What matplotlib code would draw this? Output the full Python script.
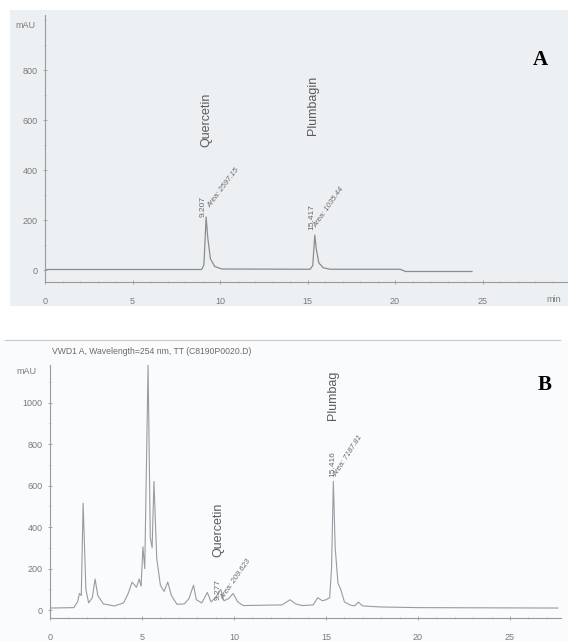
import matplotlib
matplotlib.use('Agg')
import matplotlib.pyplot as plt
from matplotlib.lines import Line2D
from matplotlib.patches import Rectangle
from matplotlib.ticker import MultipleLocator

plt.rcParams['font.family'] = ['Liberation Sans', 'DejaVu Sans']
plt.rcParams['font.size'] = 6.5

W, H = 568, 641

# ---------------------------------------------------------------- panel A trace (min, mAU)
tA = [0, 8.95, 9.08, 9.207, 9.3, 9.45, 9.7, 10.1, 15.15, 15.3, 15.417, 15.5, 15.65, 15.9, 16.3, 20.3, 20.6, 24.4]
yA = [2, 2, 20, 212, 130, 45, 14, 4, 3, 18, 140, 85, 28, 9, 3, 3, -6, -6]

# ---------------------------------------------------------------- panel B trace (min, mAU)
tB = [0, 1.3, 1.5, 1.6, 1.7, 1.8, 1.95, 2.1, 2.3, 2.45, 2.6, 2.9, 3.5, 4.0, 4.25,
      4.46, 4.7, 4.85, 4.95, 5.05, 5.15, 5.33, 5.45, 5.55, 5.65, 5.8, 6.0, 6.2, 6.4,
      6.6, 6.9, 7.3, 7.55, 7.8, 7.95, 8.25, 8.55, 8.75, 9.0, 9.28, 9.45, 9.7, 9.95,
      10.2, 10.5, 12.6, 13.05, 13.35, 13.7, 14.3, 14.55, 14.8, 15.0, 15.2, 15.3, 15.4,
      15.5, 15.65, 15.8, 16.0, 16.3, 16.55, 16.75, 17.0, 18.0, 20.0, 27.6]
yB = [10, 12, 40, 80, 70, 515, 100, 35, 60, 150, 70, 30, 20, 35, 80,
      135, 110, 150, 115, 305, 200, 1180, 350, 300, 620, 250, 120, 90, 135,
      70, 28, 30, 55, 120, 50, 35, 85, 40, 60, 100, 45, 55, 80,
      40, 22, 25, 50, 30, 22, 25, 60, 45, 50, 60, 200, 620,
      300, 130, 100, 40, 25, 20, 38, 20, 15, 12, 10]

yticksA = [0, 200, 400, 600, 800]
yticksB = [0, 200, 400, 600, 800, 1000]
xticks = [0, 5, 10, 15, 20, 25]

c_trace = '#8c8c8c'
c_text = '#7a7a7a'


def px_axes(fig, x0, y0, x1, y1):
    # pixel box (top-left origin) -> figure axes
    return fig.add_axes([x0 / W, 1 - y1 / H, (x1 - x0) / W, (y1 - y0) / H])


def style(ax):
    ax.patch.set_alpha(0)
    for s in ['top', 'right']:
        ax.spines[s].set_visible(False)
    for s in ['left', 'bottom']:
        ax.spines[s].set_color('#9a9a9a')
        ax.spines[s].set_linewidth(0.8)
    ax.tick_params(colors='#9a9a9a', labelcolor=c_text, length=3, width=0.6, direction='inout', pad=9, labelsize=6.5)
    ax.tick_params(which='minor', colors='#aaaaaa', length=2, width=0.5, direction='inout')
    ax.tick_params(axis='y', pad=4)
    ax.xaxis.set_minor_locator(MultipleLocator(1))


fig = plt.figure(figsize=(W / 100, H / 100), dpi=100)
fig.patch.set_facecolor('white')

# grey background of the scanned panel A
fig.patches.append(Rectangle((10 / W, 1 - 306 / H), 558 / W, 296 / H, transform=fig.transFigure,
                             facecolor='#edf0f3', edgecolor='none', zorder=-5))
fig.patches.append(Rectangle((0, 0), 1, 1 - 340 / H, transform=fig.transFigure,
                             facecolor='#fafbfc', edgecolor='none', zorder=-6))
fig.lines.append(Line2D([5 / W, 560 / W], [1 - 340 / H, 1 - 340 / H], transform=fig.transFigure,
                        color='#c8c8c8', linewidth=0.8))

# ---------------------------------------------------------------- A
axA = px_axes(fig, 45, 15, 568, 282)
axA.plot(tA, yA, color=c_trace, linewidth=0.9)
axA.set_xlim(0, (568 - 45) / 17.5)
axA.set_ylim(-48, 1020)
axA.set_yticks(yticksA)
axA.set_xticks(xticks)
axA.yaxis.set_minor_locator(MultipleLocator(100))
style(axA)
fig.text(15 / W, 1 - 25 / H, 'mAU', color=c_text, fontsize=6.5, ha='left', va='center')
fig.text(546 / W, 1 - 299 / H, 'min', color=c_text, fontsize=6.5, ha='left', va='center')

axA.text(9.2, 492, 'Quercetin', rotation=90, ha='center', va='bottom', fontsize=9, color='#5a5a5a')
axA.text(9.03, 212, '9.207', rotation=90, ha='center', va='bottom', fontsize=6, color='#6a6a6a')
axA.text(9.55, 245, 'Area: 2597.15', rotation=53, ha='left', va='bottom', rotation_mode='anchor',
         fontsize=5.5, style='italic', color='#6a6a6a')
axA.text(15.3, 540, 'Plumbagin', rotation=90, ha='center', va='bottom', fontsize=9, color='#5a5a5a')
axA.text(15.26, 160, '15.417', rotation=90, ha='center', va='bottom', fontsize=6, color='#6a6a6a')
axA.text(15.6, 165, 'Area: 1035.44', rotation=55, ha='left', va='bottom', rotation_mode='anchor',
         fontsize=5.5, style='italic', color='#6a6a6a')
fig.text(540 / W, 1 - 60 / H, 'A', fontsize=15, fontweight='bold', family='Liberation Serif',
         ha='center', va='center')

# ---------------------------------------------------------------- B
axB = px_axes(fig, 50, 365, 561, 618)
axB.plot(tB, yB, color='#9a9aa2', linewidth=0.8)
axB.set_xlim(0, (561 - 50) / 18.4)
axB.set_ylim(-38, 1181)
axB.set_yticks(yticksB)
axB.set_xticks(xticks)
axB.yaxis.set_minor_locator(MultipleLocator(100))
style(axB)
fig.text(16 / W, 1 - 372 / H, 'mAU', color=c_text, fontsize=6.5, ha='left', va='center')
fig.text(52 / W, 1 - 352 / H, 'VWD1 A, Wavelength=254 nm, TT (C8190P0020.D)', fontsize=6.2,
         color='#6a6a6a', va='center')

axB.text(9.13, 255, 'Quercetin', rotation=90, ha='center', va='bottom', fontsize=9, color='#5a5a5a')
axB.text(9.13, 48, '9.277', rotation=90, ha='center', va='bottom', fontsize=6, color='#6a6a6a')
axB.text(9.5, 45, 'Area: 209.623', rotation=55, ha='left', va='bottom', rotation_mode='anchor',
         fontsize=5.5, style='italic', color='#6a6a6a')
axB.text(15.38, 916, 'Plumbag', rotation=90, ha='center', va='bottom', fontsize=9, color='#5a5a5a')
axB.text(15.38, 641, '15.416', rotation=90, ha='center', va='bottom', fontsize=6, color='#6a6a6a')
axB.text(15.65, 636, 'Area: 7187.81', rotation=57, ha='left', va='bottom', rotation_mode='anchor',
         fontsize=5.5, style='italic', color='#6a6a6a')
fig.text(545 / W, 1 - 385 / H, 'B', fontsize=15, fontweight='bold', family='Liberation Serif',
         ha='center', va='center')

fig.savefig('out.png', dpi=100)
